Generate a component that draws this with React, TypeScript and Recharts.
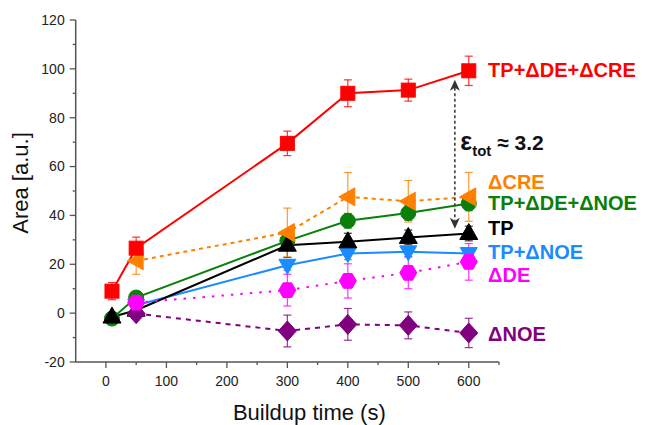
import { ErrorBar, Line, LineChart, ReferenceDot, ReferenceLine, XAxis, YAxis } from 'recharts';

// Buildup times (s)
const allTimes = [10, 50, 300, 400, 500, 600];
const lateTimes = [50, 300, 400, 500, 600];

// Areas [a.u.] and their error bars
const tpDeCre = [9, 26.6, 69.5, 90, 91.3, 99.2];
const tpDeCreErr = [3.5, 4.5, 5, 5.5, 4.5, 6];
const cre = [21.4, 33, 47.6, 45.8, 47.6];
const creErr = [5.5, 10, 10, 8.5, 10];
const tpDeNoe = [-2.2, 6.4, 29.6, 37.8, 41, 44.9];
const tpDeNoeErr = [1.5, 2, 3, 3, 3, 3];
const tp = [-1.6, 1.2, 27.8, 29.2, 31, 32.6];
const tpErr = [1.5, 2, 5, 3.5, 3, 3];
const tpNoe = [3.2, 19.6, 24.4, 25.1, 24.4];
const tpNoeErr = [1.5, 2, 2.5, 2, 2];
const de = [4.3, 9.4, 13.2, 16.5, 21];
const deErr = [3, 6.5, 7, 6.5, 7.5];
const noe = [-0.2, -7.3, -4.6, -5, -8.1];
const noeErr = [2, 6.5, 6.5, 5.5, 6];

const xTicks = [0, 50, 100, 150, 200, 250, 300, 350, 400, 450, 500, 550, 600, 650];
const yTicks = [-20, -10, 0, 10, 20, 30, 40, 50, 60, 70, 80, 90, 100, 110, 120];

const seriesNames = ['TP+ΔDE+ΔCRE', 'ΔCRE', 'TP+ΔDE+ΔNOE', 'TP', 'TP+ΔNOE', 'ΔDE', 'ΔNOE'];

const FONT = 'Arial, "Liberation Sans", sans-serif';
const AXIS = '#555';
const TICK_SIZE = 6;
const Y_MARGIN = 5;
const X_MARGIN = 8;

const RED = '#ff0000';
const ORANGE = '#ff8000';
const GREEN = '#0a800a';
const BLACK = '#000000';
const BLUE = '#1a8cff';
const MAGENTA = '#ff00ff';
const PURPLE = '#800080';

const toPoints = (xs: number[], ys: number[], errs: number[]) =>
  xs.map((t, i) => ({ t, v: ys[i], e: errs[i] }));

type Shape = 'square' | 'left' | 'circle' | 'up' | 'down' | 'hex' | 'diamond';

const marker = (shape: Shape, color: string) =>
  // eslint-disable-next-line @typescript-eslint/no-explicit-any
  (props: any) => {
    const { cx, cy, index } = props;
    if (cx == null || cy == null) return <g key={index} />;
    let el;
    switch (shape) {
      case 'square':
        el = <rect x={cx - 7} y={cy - 7} width={14} height={14} />;
        break;
      case 'left':
        el = <polygon points={`${cx - 9},${cy} ${cx + 7},${cy - 9} ${cx + 7},${cy + 9}`} />;
        break;
      case 'circle':
        el = <circle cx={cx} cy={cy} r={7.5} />;
        break;
      case 'up':
        el = <polygon points={`${cx},${cy - 10} ${cx - 9},${cy + 6} ${cx + 9},${cy + 6}`} />;
        break;
      case 'down':
        el = <polygon points={`${cx},${cy + 9} ${cx - 8.5},${cy - 6} ${cx + 8.5},${cy - 6}`} />;
        break;
      case 'hex': {
        const pts = [0, 1, 2, 3, 4, 5]
          .map((k) => {
            const a = (Math.PI / 3) * k;
            return `${cx + 8.5 * Math.cos(a)},${cy + 8.5 * Math.sin(a)}`;
          })
          .join(' ');
        el = <polygon points={pts} />;
        break;
      }
      default:
        el = <polygon points={`${cx},${cy - 10} ${cx + 9},${cy} ${cx},${cy + 10} ${cx - 9},${cy}`} />;
    }
    return (
      <g key={index} fill={color} stroke={color} strokeWidth={1}>
        {el}
      </g>
    );
  };

const series = [
  { name: seriesNames[4], data: toPoints(lateTimes, tpNoe, tpNoeErr), color: BLUE, shape: 'down' as Shape },
  { name: seriesNames[2], data: toPoints(allTimes, tpDeNoe, tpDeNoeErr), color: GREEN, shape: 'circle' as Shape },
  { name: seriesNames[3], data: toPoints(allTimes, tp, tpErr), color: BLACK, shape: 'up' as Shape },
  { name: seriesNames[6], data: toPoints(lateTimes, noe, noeErr), color: PURPLE, shape: 'diamond' as Shape, dash: '5 5' },
  { name: seriesNames[5], data: toPoints(lateTimes, de, deErr), color: MAGENTA, shape: 'hex' as Shape, dash: '2.5 7' },
  { name: seriesNames[1], data: toPoints(lateTimes, cre, creErr), color: ORANGE, shape: 'left' as Shape, dash: '4 4' },
  { name: seriesNames[0], data: toPoints(allTimes, tpDeCre, tpDeCreErr), color: RED, shape: 'square' as Shape },
];

// where the series names sit, in data units
const labelX = 632;
const labelAnchors = [
  { text: seriesNames[0], y: 99.5, color: RED },
  { text: seriesNames[1], y: 53.8, color: ORANGE },
  { text: seriesNames[2], y: 45, color: GREEN },
  { text: seriesNames[3], y: 34.8, color: BLACK },
  { text: seriesNames[4], y: 25.1, color: BLUE },
  { text: seriesNames[5], y: 15.5, color: MAGENTA },
  { text: seriesNames[6], y: -8.4, color: PURPLE },
];

// eslint-disable-next-line @typescript-eslint/no-explicit-any
const YTick = (props: any) => {
  const { x, y, payload } = props;
  const major = payload.value % 20 === 0;
  const axisX = x + Y_MARGIN + TICK_SIZE;
  return (
    <g>
      <line x1={axisX} x2={axisX - (major ? 6 : 3)} y1={y} y2={y} stroke={AXIS} strokeWidth={1.3} />
      {major && (
        <text x={x} y={y} dy="0.35em" textAnchor="end" fontSize={14} fontFamily={FONT} fill="#222">
          {payload.value}
        </text>
      )}
    </g>
  );
};

// eslint-disable-next-line @typescript-eslint/no-explicit-any
const XTick = (props: any) => {
  const { x, y, payload } = props;
  const major = payload.value % 100 === 0;
  const axisY = y - X_MARGIN - TICK_SIZE;
  return (
    <g>
      <line x1={x} x2={x} y1={axisY} y2={axisY + (major ? 6 : 3)} stroke={AXIS} strokeWidth={1.3} />
      {major && (
        <text x={x} y={y} dy="0.71em" textAnchor="middle" fontSize={14} fontFamily={FONT} fill="#222">
          {payload.value}
        </text>
      )}
    </g>
  );
};

// eslint-disable-next-line @typescript-eslint/no-explicit-any
const XTitle = (props: any) => {
  const vb = props.viewBox;
  return (
    <text x={vb.x + vb.width / 2 + 22} y={vb.y + 57.5} textAnchor="middle" fontSize={22} fontFamily={FONT} fill="#111">
      Buildup time (s)
    </text>
  );
};

// eslint-disable-next-line @typescript-eslint/no-explicit-any
const YTitle = (props: any) => {
  const vb = props.viewBox;
  const cx = vb.x + 4.5;
  const cy = vb.y + vb.height / 2 - 8;
  return (
    <text
      x={cx}
      y={cy}
      dy="0.35em"
      textAnchor="middle"
      transform={`rotate(-90 ${cx} ${cy})`}
      fontSize={22}
      fontFamily={FONT}
      fill="#111"
    >
      Area [a.u.]
    </text>
  );
};

// eslint-disable-next-line @typescript-eslint/no-explicit-any
const DoubleArrow = (props: any) => {
  const { x1, y1, x2, y2 } = props;
  const top = Math.min(y1, y2);
  const bot = Math.max(y1, y2);
  const c = '#333';
  return (
    <g>
      <line x1={x1} x2={x2} y1={top + 8} y2={bot - 8} stroke={c} strokeWidth={1.5} strokeDasharray="3 2.5" />
      <polygon points={`${x1},${top} ${x1 - 5},${top + 11} ${x1},${top + 8} ${x1 + 5},${top + 11}`} fill={c} />
      <polygon points={`${x1},${bot} ${x1 - 5},${bot - 11} ${x1},${bot - 8} ${x1 + 5},${bot - 11}`} fill={c} />
    </g>
  );
};

export default function App() {
  return (
    <div style={{ position: 'absolute', left: 0, top: 0, width: 650, height: 425, background: '#fff' }}>
      <LineChart width={650} height={425} margin={{ top: 20, right: 151, left: 15.7, bottom: 8 }}>
        <XAxis
          type="number"
          dataKey="t"
          domain={[-50, 650]}
          ticks={xTicks}
          interval={0}
          allowDataOverflow
          height={55}
          tickSize={TICK_SIZE}
          tickMargin={X_MARGIN}
          tickLine={false}
          tick={<XTick />}
          stroke={AXIS}
          strokeWidth={1.5}
          label={{ content: XTitle }}
        />
        <YAxis
          type="number"
          dataKey="v"
          domain={[-20, 120]}
          ticks={yTicks}
          interval={0}
          allowDataOverflow
          width={60}
          tickSize={TICK_SIZE}
          tickMargin={Y_MARGIN}
          tickLine={false}
          tick={<YTick />}
          stroke={AXIS}
          strokeWidth={1.5}
          label={{ content: YTitle }}
        />
        {series.map((s) => (
          <Line
            key={s.name}
            data={s.data}
            dataKey="v"
            name={s.name}
            stroke={s.color}
            strokeWidth={2}
            strokeDasharray={s.dash}
            dot={marker(s.shape, s.color)}
            activeDot={false}
            isAnimationActive={false}
          >
            <ErrorBar dataKey="e" direction="y" width={4} stroke={s.color} strokeWidth={1.2} strokeOpacity={0.8} />
          </Line>
        ))}
        <ReferenceLine
          segment={[
            { x: 577, y: 95.5 },
            { x: 577, y: 34.5 },
          ]}
          ifOverflow="visible"
          shape={DoubleArrow}
        />
        <ReferenceDot
          x={586}
          y={69.6}
          r={0}
          ifOverflow="visible"
          shape={(p: { cx: number; cy: number }) => (
            <text x={p.cx} y={p.cy} dy="0.35em" fontFamily={FONT} fontWeight="bold" fontSize={21} fill="#111">
              <tspan fontSize={25}>ε</tspan>
              <tspan dy={6} fontSize={15}>tot</tspan>
              <tspan dy={-6}> ≈ 3.2</tspan>
            </text>
          )}
        />
        {labelAnchors.map((l) => (
          <ReferenceDot
            key={l.text}
            x={labelX}
            y={l.y}
            r={0}
            ifOverflow="visible"
            shape={(p: { cx: number; cy: number }) => (
              <text x={p.cx} y={p.cy} dy="0.35em" fontFamily={FONT} fontWeight="bold" fontSize={20} fill={l.color}>
                {l.text}
              </text>
            )}
          />
        ))}
      </LineChart>
    </div>
  );
}
